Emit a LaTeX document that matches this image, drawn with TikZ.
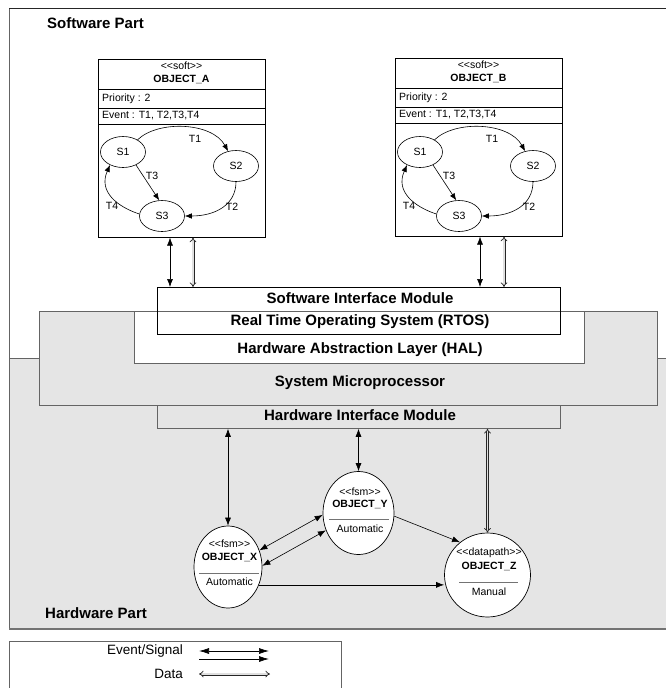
\documentclass[tikz,border=0pt]{standalone}
\usepackage{fontspec}
\setmainfont{Liberation Sans}
\usetikzlibrary{arrows.meta,shapes.geometric,calc}
\definecolor{hwgray}{RGB}{229,229,229}
\definecolor{edgegray}{RGB}{100,100,100}
\newcommand{\stereo}[1]{{<}{<}#1{>}{>}}
\begin{document}
\begin{tikzpicture}[x=1pt,y=-1pt,
  big/.style={font=\fontsize{15}{17}\selectfont\bfseries, inner sep=0pt},
  small/.style={font=\fontsize{10.5}{12}\selectfont, inner sep=0pt},
  smallb/.style={font=\fontsize{10.5}{12}\selectfont\bfseries, inner sep=0pt},
  legtxt/.style={font=\fontsize{13.5}{15}\selectfont, inner sep=0pt, anchor=east},
  grayline/.style={draw=edgegray, line width=0.8pt},
  divline/.style={draw=black!55, line width=1pt},
  layerbox/.style={draw=edgegray, line width=0.8pt, inner sep=0pt, anchor=north west},
  objbox/.style={draw=black, line width=0.6pt, inner sep=0pt, anchor=north west, minimum width=167pt, minimum height=178pt},
  state/.style={ellipse, draw=black, line width=0.6pt, inner sep=0pt, minimum width=45pt, minimum height=31pt, font=\fontsize{10.5}{12}\selectfont},
  hwobj/.style={ellipse, draw=black, fill=white, line width=0.7pt, inner sep=0pt},
  sig/.style={line width=0.6pt, {Latex[length=8pt,width=6pt]}-{Latex[length=8pt,width=6pt]}},
  sigone/.style={line width=0.6pt, -{Latex[length=8pt,width=6pt]}},
  data/.style={draw=black!85, double=black!12, line width=0.75pt, double distance=1.5pt, {Implies}-{Implies}},
  stedge/.style={line width=0.6pt, -{Latex[length=7pt,width=5.5pt]}},
]
\useasboundingbox (0,0) rectangle (666,688);

% ---------- frames ----------
\fill[hwgray] (9,358) rectangle (670,629);
\draw[grayline] (9,629) -- (9,358) -- (670,358);
\draw[draw=black!55, line width=1.6pt] (9,629) -- (670,629);
\draw[grayline] (9,358) -- (9,8);
\draw[draw=black!85, line width=0.8pt] (9,8) -- (670,8);
\node[big, anchor=west] (swlabel) at (47,23) {Software Part};
\node[big, anchor=west] (hwlabel) at (45,613) {Hardware Part};

% ---------- layers ----------
\node[layerbox, fill=hwgray, minimum width=618pt, minimum height=94pt] (sm) at (39,311) {};
\node[layerbox, fill=white, minimum width=450pt, minimum height=52pt] (hal) at (134,311) {};
\node[layerbox, draw=black, minimum width=403pt, minimum height=47pt] (sim) at (157,287) {};
\node[layerbox, fill=hwgray, minimum width=403pt, minimum height=23pt] (him) at (157,405) {};
\node[big] (simtxt) at (360,298) {Software Interface Module};
\node[big] (rtostxt) at (360,322) {Real Time Operating System (RTOS)};
\node[big] (haltxt) at (360,350) {Hardware Abstraction Layer (HAL)};
\node[big] (smtxt) at (360,383) {System Microprocessor};
\node[big] (himtxt) at (360,415) {Hardware Interface Module};

% ---------- OBJECT_A ----------
\node[objbox] (objA) at (98,59) {};
\node[small] (stA) at (181.5,66) {\stereo{soft}};
\node[smallb] (nmA) at (181.5,79) {OBJECT\_A};
\draw[line width=0.6pt] (objA.west |- 0,89) -- (objA.east |- 0,89);
\node[small, anchor=west] (prA) at (102,98.5) {Priority : 2};
\draw[line width=0.6pt] (objA.west |- 0,108) -- (objA.east |- 0,108);
\node[small, anchor=west] (evA) at (102,116) {Event : T1, T2,T3,T4};
\draw[line width=0.6pt] (objA.west |- 0,124) -- (objA.east |- 0,124);
\node[state] (s1A) at (123,152) {S1};
\node[state] (s2A) at (236,166) {S2};
\node[state] (s3A) at (162,216) {S3};
\draw[stedge] (s1A.40) .. controls (158,120) and (212,122) .. (s2A.118);
\draw[stedge] (s1A.-45) -- (s3A.100);
\draw[stedge] (s2A.south) .. controls (236,205) and (215,216) .. (s3A.east);
\draw[stedge] (s3A.175) .. controls (118,207) and (98,192) .. (s1A.-135);
\node[small] (t1A) at (195,139) {T1};
\node[small] (t3A) at (152,176) {T3};
\node[small] (t2A) at (232,207) {T2};
\node[small] (t4A) at (112,206) {T4};

% ---------- OBJECT_B ----------
\begin{scope}[xshift=297pt]
\node[objbox] (objB) at (98,58) {};
\node[small] (stB) at (181.5,65) {\stereo{soft}};
\node[smallb] (nmB) at (181.5,78) {OBJECT\_B};
\draw[line width=0.6pt] (objB.west |- 0,88) -- (objB.east |- 0,88);
\node[small, anchor=west] (prB) at (102,97.5) {Priority : 2};
\draw[line width=0.6pt] (objB.west |- 0,107) -- (objB.east |- 0,107);
\node[small, anchor=west] (evB) at (102,115) {Event : T1, T2,T3,T4};
\draw[line width=0.6pt] (objB.west |- 0,123) -- (objB.east |- 0,123);
\node[state] (s1B) at (123,152) {S1};
\node[state] (s2B) at (236,166) {S2};
\node[state] (s3B) at (162,216) {S3};
\draw[stedge] (s1B.40) .. controls (158,120) and (212,122) .. (s2B.118);
\draw[stedge] (s1B.-45) -- (s3B.100);
\draw[stedge] (s2B.south) .. controls (236,205) and (215,216) .. (s3B.east);
\draw[stedge] (s3B.175) .. controls (118,207) and (98,192) .. (s1B.-135);
\node[small] (t1B) at (195,139) {T1};
\node[small] (t3B) at (152,176) {T3};
\node[small] (t2B) at (232,207) {T2};
\node[small] (t4B) at (112,206) {T4};
\end{scope}

% ---------- software connectors ----------
\coordinate (xa1) at (170,0);
\coordinate (xa2) at (193,0);
\coordinate (xb1) at (480,0);
\coordinate (xb2) at (504,0);
\draw[sig] (objA.south -| xa1) -- (sim.north -| xa1);
\draw[data] (objA.south -| xa2) -- (sim.north -| xa2);
\draw[sig] (objB.south -| xb1) -- (sim.north -| xb1);
\draw[data] (objB.south -| xb2) -- (sim.north -| xb2);

% ---------- hardware objects ----------
\node[hwobj, minimum width=68pt, minimum height=82pt] (objX) at (228,567) {};
\node[hwobj, minimum width=71pt, minimum height=83pt] (objY) at (358.5,513) {};
\node[hwobj, minimum width=86pt, minimum height=84pt] (objZ) at (487.5,575) {};

\node[small] (stX) at (229.5,544) {\stereo{fsm}};
\node[smallb] (nmX) at (229.5,557) {OBJECT\_X};
\draw[divline] (199,573) -- (259,573);
\node[small] (auX) at (229.5,582) {Automatic};

\node[small] (stY) at (360,492) {\stereo{fsm}};
\node[smallb] (nmY) at (360,504) {OBJECT\_Y};
\draw[divline] (329,519) -- (389,519);
\node[small] (auY) at (360,529) {Automatic};

\node[small] (stZ) at (489,553) {\stereo{datapath}};
\node[smallb] (nmZ) at (489,566) {OBJECT\_Z};
\draw[divline] (459,582) -- (518,582);
\node[small] (maZ) at (489,592) {Manual};

% ---------- hardware connectors ----------
\draw[sig] (him.south -| objX.north) -- (objX.north);
\draw[sig] (him.south -| objY.north) -- (objY.north);
\draw[data] (him.south -| objZ.north) -- (objZ.north);
\draw[sig] (objX.28) -- (objY.183);
\draw[sig] (objX.2) -- (objY.208);
\draw[sigone] (objY.-5) -- (objZ.130);
\draw[sigone] (objX.-30) -- (objX.-30 -| objZ.west);

% ---------- legend ----------
\draw[grayline] (9,700) -- (9,641) -- (341,641) -- (341,700);
\node[legtxt] (legev) at (183,651) {Event/Signal};
\node[legtxt] (legdata) at (183,674) {Data};
\coordinate (la1) at (199,651);
\coordinate (lb1) at (269,651);
\coordinate (la2) at (199,659);
\coordinate (lb2) at (269,659);
\coordinate (la3) at (199,674);
\coordinate (lb3) at (270,674);
\draw[line width=0.7pt, {Latex[length=10pt,width=6pt]}-{Latex[length=10pt,width=6pt]}] (la1) -- (lb1);
\draw[line width=0.7pt, -{Latex[length=10pt,width=6pt]}] (la2) -- (lb2);
\draw[data] (la3) -- (lb3);
\end{tikzpicture}
\end{document}
